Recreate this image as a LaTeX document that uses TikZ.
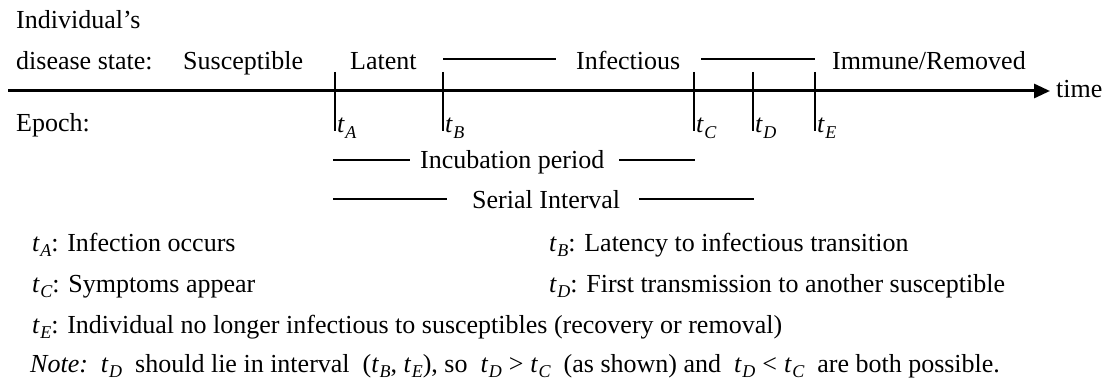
\documentclass[tikz,border=0pt]{standalone}
\usepackage{fontspec}
\setmainfont{Liberation Serif}
\newfontfamily\timesfont{Liberation Serif}
\usetikzlibrary{arrows.meta}
% epoch symbol: italic t with a lowered italic subscript letter
\newcommand{\ep}[1]{\textit{t}\kern0.5pt\raisebox{-0.22em}{\fontsize{18}{18}\selectfont\itshape #1}}
\newcommand{\rel}[1]{\kern7pt#1\kern7pt}
\tikzset{
  txt/.style={font=\timesfont\fontsize{26}{31}\selectfont, inner sep=0pt, anchor=base west},
  axisline/.style={line width=3pt, -{Triangle[length=16pt,width=14pt]}},
  tickline/.style={line width=2pt},
  spanline/.style={line width=2pt}
}
\begin{document}
\begin{tikzpicture}[x=1pt,y=-1pt]
\useasboundingbox (0,0) rectangle (1105,382);

% state labels above the time axis
\node[txt] (ind) at (16,29) {Individual’s};
\node[txt] (dis) at (16,70) {disease state:};
\node[txt] (sus) at (183,70) {Susceptible};
\node[txt] (lat) at (350,70) {Latent};
\node[txt] (inf) at (576,70) {Infectious};
\node[txt] (imm) at (832,70) {Immune/Removed};

% infectious span markers
\coordinate (i1a) at (443,59); \coordinate (i1b) at (556,59);
\coordinate (i2a) at (701,59); \coordinate (i2b) at (815,59);
\draw[spanline] (i1a) -- (i1b);
\draw[spanline] (i2a) -- (i2b);

% time axis
\coordinate (ax0) at (8,91);
\coordinate (ax1) at (1050,91);
\draw[axisline] (ax0) -- (ax1);
\node[txt] (time) at (1056,98) {time};

% epochs
\node[txt] (epoch) at (16,132) {Epoch:};
\foreach \n/\x in {A/335,B/443,C/694,D/753,E/815}{
  \coordinate (top\n) at (\x,72);
  \coordinate (bot\n) at (\x,131);
  \draw[tickline] (top\n) -- (bot\n);
  \node[txt] (lab\n) at (\x+2,133) {\ep{\n}};
}

% incubation period
\node[txt] (incub) at (420,169) {Incubation period};
\coordinate (inc1a) at (333,160); \coordinate (inc1b) at (410,160);
\coordinate (inc2a) at (619,160); \coordinate (inc2b) at (695,160);
\draw[spanline] (inc1a) -- (inc1b);
\draw[spanline] (inc2a) -- (inc2b);

% serial interval
\node[txt] (serial) at (472,208) {Serial Interval};
\coordinate (ser1a) at (333,199); \coordinate (ser1b) at (447,199);
\coordinate (ser2a) at (639,199); \coordinate (ser2b) at (754,199);
\draw[spanline] (ser1a) -- (ser1b);
\draw[spanline] (ser2a) -- (ser2b);

% legend
\node[txt] (legA) at (32,251) {\ep{A}: Infection occurs};
\node[txt] (legB) at (549,251) {\ep{B}: Latency to infectious transition};
\node[txt] (legC) at (32,292) {\ep{C}: Symptoms appear};
\node[txt] (legD) at (549,292) {\ep{D}: First transmission to another susceptible};
\node[txt] (legE) at (32,333) {\ep{E}: Individual no longer infectious to susceptibles (recovery or removal)};
\node[txt] (note) at (30,372) {\textit{Note:}\ \ \ep{D}\ \ should lie in interval\ \ (\ep{B}, \ep{E}), so\ \ \ep{D}\rel{>}\ep{C}\ \ (as shown) and\ \ \ep{D}\rel{<}\ep{C}\ \ are both possible.};
\end{tikzpicture}
\end{document}
